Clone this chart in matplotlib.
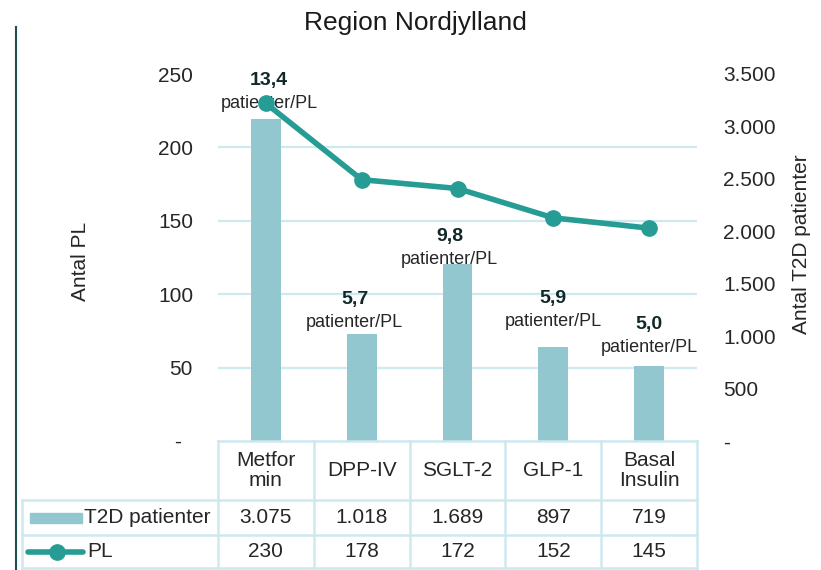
import matplotlib
matplotlib.use("Agg")
import matplotlib.pyplot as plt
from matplotlib.ticker import FixedLocator
from matplotlib.patches import Rectangle
from matplotlib.lines import Line2D

# ---- data ----
categories = ["Metfor\nmin", "DPP-IV", "SGLT-2", "GLP-1", "Basal\nInsulin"]
t2d_patienter = [3075, 1018, 1689, 897, 719]
pl = [230, 178, 172, 152, 145]
left_ticks = [0, 50, 100, 150, 200, 250]
right_ticks = [0, 500, 1000, 1500, 2000, 2500, 3000, 3500]
series_names = ["T2D patienter", "PL"]
title = "Region Nordjylland"

# ---- style ----
BAR_C = "#93c7cf"
LINE_C = "#269c94"
GRID_C = "#cdeaf0"
TXT_C = "#262626"
FONT = "Liberation Sans"
plt.rcParams["font.family"] = [FONT, "DejaVu Sans"]

def dk(v):
    return f"{v:,.0f}".replace(",", ".")

fig = plt.figure(figsize=(8.21, 5.70), dpi=100)
W, H = 821, 570
ax = fig.add_axes([218 / W, 129 / H, 479 / W, 367 / H])
ax_line = ax.twinx()

x = list(range(len(categories)))
ax.bar(x, t2d_patienter, width=0.31, color=BAR_C, zorder=2)
ax.set_xlim(-0.5, len(categories) - 0.5)
ax.set_ylim(0, right_ticks[-1])
ax_line.set_ylim(0, left_ticks[-1])
ax_line.plot(x, pl, color=LINE_C, lw=4.0, marker="o", markersize=11,
             solid_capstyle="round", zorder=3)

scale = right_ticks[-1] / left_ticks[-1]
ax.yaxis.set_minor_locator(FixedLocator([v * scale for v in left_ticks[1:]]))
ax.grid(which="minor", axis="y", color=GRID_C, lw=1.6, zorder=0)
ax.tick_params(which="minor", length=0)

ax.yaxis.tick_right()
ax.set_yticks(right_ticks)
ax.set_yticklabels(["-" if v == 0 else dk(v) for v in right_ticks])
ax.tick_params(axis="y", which="major", length=0, pad=19, labelsize=15, labelcolor=TXT_C)
ax_line.yaxis.tick_left()
ax_line.set_yticks(left_ticks)
ax_line.set_yticklabels(["-  " if v == 0 else str(v) for v in left_ticks])
ax_line.tick_params(axis="y", length=0, pad=18, labelsize=15, labelcolor=TXT_C)
ax.set_xticks([])
ax_line.set_xticks([])
for a in (ax, ax_line):
    for s in a.spines.values():
        s.set_visible(False)

# data labels (ratio patients per PL)
label_dy = [15, 12, 4, 25, 18]
label_dx = [3, -7, -8, 0, 0]
for i, (t, p) in enumerate(zip(t2d_patienter, pl)):
    ratio = f"{t / p:.1f}".replace(".", ",")
    ax.annotate("patienter/PL", (i, t), xytext=(label_dx[i], label_dy[i]),
                textcoords="offset pixels", ha="center", va="center",
                fontsize=13, color=TXT_C, zorder=5)
    ax.annotate(ratio, (i, t), xytext=(label_dx[i], label_dy[i] + 23),
                textcoords="offset pixels", ha="center", va="center",
                fontsize=14, fontweight="bold", color="#102828", zorder=5)

# ---- data table ----
tr = ax.transAxes
n = len(categories)
TB = "#cfe8ee"
y_top, y_h, y_r1, y_r2 = 0.0, -0.1608, -0.2561, -0.346
x_left = -0.409
lk = dict(color=TB, lw=1.8, transform=tr, clip_on=False)
for yy, x0 in [(y_top, 0.0), (y_h, x_left), (y_r1, x_left), (y_r2, x_left)]:
    ax.add_line(Line2D([x0, 1.0], [yy, yy], **lk))
for i in range(n + 1):
    ax.add_line(Line2D([i / n, i / n], [y_top, y_r2], **lk))
ax.add_line(Line2D([x_left, x_left], [y_h, y_r2], **lk))

for i, c in enumerate(categories):
    cx = (i + 0.5) / n
    ax.text(cx, (y_top + y_h) / 2, c, transform=tr, ha="center", va="center",
            fontsize=15, color=TXT_C, linespacing=1.1)
    ax.text(cx, (y_h + y_r1) / 2, dk(t2d_patienter[i]), transform=tr,
            ha="center", va="center", fontsize=15, color=TXT_C)
    ax.text(cx, (y_r1 + y_r2) / 2, str(pl[i]), transform=tr,
            ha="center", va="center", fontsize=15, color=TXT_C)

# legend keys in table
ax.add_patch(Rectangle((-0.3925, -0.2234), 0.1085, 0.0272, transform=tr,
                       color=BAR_C, clip_on=False))
ax.text(-0.2797, (y_h + y_r1) / 2, series_names[0], transform=tr,
        ha="left", va="center", fontsize=15, color=TXT_C)
ax.add_line(Line2D([-0.3967, -0.2818], [-0.3025, -0.3025], color=LINE_C, lw=4.0,
                   transform=tr, clip_on=False, solid_capstyle="round"))
ax.add_line(Line2D([-0.336], [-0.3025], color=LINE_C, marker="o", markersize=11,
                   transform=tr, clip_on=False))
ax.text(-0.2726, (y_r1 + y_r2) / 2, series_names[1], transform=tr,
        ha="left", va="center", fontsize=15, color=TXT_C)

# axis titles and chart title
fig.text(80 / W, 1 - 261 / H, "Antal PL", rotation=90, ha="center", va="center",
         fontsize=15, color=TXT_C)
fig.text(801 / W, 1 - 244 / H, "Antal T2D patienter", rotation=90, ha="center",
         va="center", fontsize=15, color=TXT_C)
fig.text(415 / W, 1 - 23 / H, title, ha="center", va="center", fontsize=19,
         color="#1a1a1a")

# left frame line
fig.add_artist(Line2D([16 / W, 16 / W], [0, 1 - 27 / H], color="#1f4e50", lw=1.5))

fig.savefig("out.png", dpi=100)
